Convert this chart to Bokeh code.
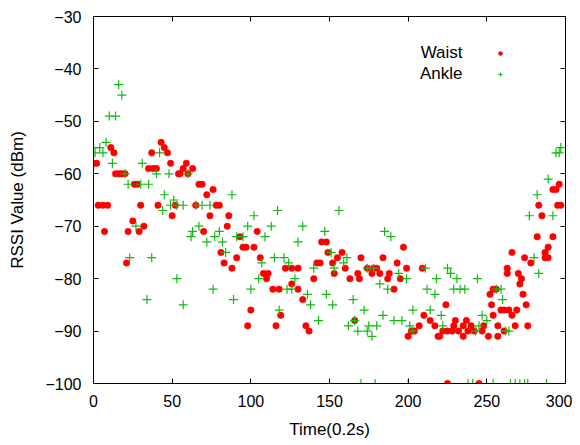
from bokeh.plotting import figure
from bokeh.models import (Range1d, FixedTicker, LinearAxis, Label, Legend, LegendItem)
from bokeh.embed import file_html
from bokeh.resources import INLINE

# ---- data ----
waist_x = [0, 2, 3, 6, 9, 7, 11, 13, 14, 16, 18, 20, 21, 22, 25, 26, 28, 29, 30, 32,
           35, 38, 40, 37, 41, 43, 45, 47, 49, 50, 52, 54, 55, 57, 59, 60, 63, 65, 67, 69,
           70, 72, 76, 74, 78, 80, 81, 83, 85, 86, 88, 91, 93, 95, 97, 102, 98, 100, 104, 106,
           108, 111, 110, 114, 118, 116, 119, 122, 126, 130, 126, 130, 133, 135, 137, 140, 142, 144, 145, 148,
           149, 152, 153, 155, 158, 160, 163, 166, 168, 169, 170, 174, 177, 178, 180, 182, 184, 187, 188, 191,
           193, 195, 197, 199, 200, 202, 204, 207, 209, 210, 214, 217, 219, 220, 222, 225, 228, 224, 225, 229,
           230, 232, 235, 235, 237, 238, 240, 242, 245, 247, 248, 251, 252, 253, 254, 254, 256, 257, 257, 259,
           261, 261, 263, 263, 264, 266, 266, 268, 269, 270, 271, 272, 273, 274, 275, 276, 278, 282, 283, 285,
           287, 287, 289, 289, 292, 292, 294, 295, 297, 296]
waist_y = [-58, -58, -66, -66, -66, -71, -55, -56, -60, -60, -60, -60, -77, -71, -69, -62, -62, -71, -66, -70,
           -59, -59, -59, -56, -66, -54, -55, -56, -58, -68, -66, -60, -60, -59, -58, -60, -59, -66, -62, -62,
           -71, -64, -63, -68, -66, -66, -75, -77, -70, -68, -78, -76, -72, -74, -74, -74, -89, -86, -71, -76,
           -79, -79, -80, -82, -82, -89, -87, -78, -78, -78, -81, -82, -84, -89, -90, -80, -77, -77, -73, -73,
           -75, -77, -79, -76, -75, -78, -80, -88, -79, -80, -76, -78, -79, -78, -78, -79, -76, -80, -79, -82,
           -77, -80, -74, -78, -91, -90, -90, -89, -78, -87, -88, -89, -91, -91, -90, -90, -90, -85, -100, -89,
           -88, -90, -89, -91, -88, -90, -89, -90, -100, -90, -89, -91, -83, -85, -82, -87, -82, -89, -91, -86,
           -86, -90, -78, -79, -86, -75, -87, -89, -86, -79, -81, -80, -83, -76, -85, -89, -77, -72, -66, -68,
           -75, -76, -76, -74, -72, -63, -63, -66, -66, -62]

ankle_x = [0, 4, 1, 6, 8, 10, 14, 12, 16, 18, 20, 22, 23, 27, 30, 35, 31, 34, 37, 40,
           42, 44, 45, 48, 49, 51, 53, 53, 57, 57, 60, 62, 63, 65, 67, 69, 72, 74, 76, 77,
           80, 82, 84, 88, 89, 91, 95, 98, 100, 102, 105, 107, 109, 113, 115, 117, 118, 121, 123, 124,
           126, 128, 130, 133, 136, 138, 140, 143, 147, 148, 151, 152, 153, 156, 159, 161, 162, 165, 166, 168,
           170, 172, 174, 174, 175, 177, 178, 179, 180, 182, 184, 185, 187, 189, 191, 194, 196, 199, 200, 201,
           203, 203, 211, 212, 214, 217, 218, 221, 222, 225, 227, 229, 231, 233, 236, 238, 241, 243, 244, 245,
           247, 250, 254, 256, 259, 260, 262, 264, 265, 268, 271, 274, 276, 277, 280, 282, 283, 288, 289, 292,
           294, 296, 297]
ankle_y = [-55, -55, -56, -56, -54, -49, -49, -58, -43, -45, -60, -62, -76, -70, -62, -62, -58, -84, -76, -60,
           -56, -67, -64, -60, -66, -65, -66, -80, -66, -85, -60, -72, -71, -66, -70, -66, -73, -66, -82, -72,
           -71, -73, -75, -64, -84, -72, -72, -70, -82, -68, -80, -77, -72, -70, -76, -67, -86, -76, -82, -77,
           -82, -80, -73, -70, -83, -85, -78, -88, -71, -83, -75, -85, -78, -67, -77, -76, -89, -84, -88, -90,
           -100, -86, -78, -90, -89, -91, -78, -100, -89, -81, -87, -71, -82, -72, -88, -79, -88, -80, -100, -89,
           -86, -90, -78, -82, -86, -83, -80, -87, -89, -78, -79, -82, -80, -82, -82, -100, -100, -90, -80, -89,
           -87, -88, -100, -82, -82, -84, -90, -90, -100, -100, -100, -100, -100, -68, -76, -64, -79, -100, -61, -68,
           -56, -56, -55]

x_ticks = [0, 50, 100, 150, 200, 250, 300]
y_ticks = [-100, -90, -80, -70, -60, -50, -40, -30]
series_names = ["Waist", "Ankle"]
x_label = "Time(0.2s)"
y_label = "RSSI Value (dBm)"

FONT = "Liberation Sans"
RED = "#ff0000"
GREEN = "#11bb11"

p = figure(frame_width=472, frame_height=367, output_backend="svg", toolbar_location=None,
           x_range=Range1d(0, 300), y_range=Range1d(-100, -30),
           min_border_left=93, min_border_right=7, min_border_top=16, min_border_bottom=60,
           x_axis_label=x_label, y_axis_label=y_label)

p.grid.visible = False
p.outline_line_color = "black"
p.outline_line_width = 1
p.background_fill_color = "white"
p.border_fill_color = "white"

for ax, ticks in ((p.xaxis[0], x_ticks), (p.yaxis[0], y_ticks)):
    ax.ticker = FixedTicker(ticks=ticks)
    ax.major_tick_in = 5
    ax.major_tick_out = 0
    ax.minor_tick_line_color = None
    ax.axis_line_color = "black"
    ax.major_tick_line_color = "black"
    ax.major_label_text_font = FONT
    ax.major_label_text_font_size = "16px"
    ax.major_label_text_color = "black"
    ax.axis_label_text_font = FONT
    ax.axis_label_text_font_size = "17px"
    ax.axis_label_text_font_style = "normal"
    ax.axis_label_text_color = "black"

p.xaxis[0].major_label_standoff = 11
p.xaxis[0].axis_label_standoff = 10
p.yaxis[0].major_label_standoff = 12
p.yaxis[0].axis_label_standoff = 15

# mirrored ticks on top and right (no labels)
for side, ticks in (("above", x_ticks), ("right", y_ticks)):
    ax = LinearAxis(ticker=FixedTicker(ticks=ticks))
    ax.major_tick_in = 5
    ax.major_tick_out = 0
    ax.minor_tick_line_color = None
    ax.major_label_text_font_size = "1px"
    ax.major_label_text_color = None
    ax.major_label_standoff = 0
    ax.axis_line_color = "black"
    ax.major_tick_line_color = "black"
    p.add_layout(ax, side)

r_waist = p.scatter(waist_x, waist_y, marker="circle", size=6.5,
                    fill_color=RED, line_color=RED, line_width=0.5)
r_ankle = p.scatter(ankle_x, ankle_y, marker="cross", size=9,
                    line_color=GREEN, line_width=1.2)

# key in gnuplot style: text right-aligned, symbol on the right
legend = Legend(items=[LegendItem(label="", renderers=[r_waist]),
                       LegendItem(label="", renderers=[r_ankle])],
                location=(402, 300), glyph_width=10, glyph_height=18, spacing=3,
                padding=0, margin=0, label_standoff=0, label_width=0, label_height=18,
                border_line_color=None, background_fill_alpha=0)
p.add_layout(legend, "center")

for name, ypos in zip(series_names, [331, 310]):
    p.add_layout(Label(x=369, y=ypos, x_units="screen", y_units="screen", text=name,
                       text_align="right", text_baseline="middle",
                       text_font=FONT, text_font_size="17px", text_color="black"))

open("out.html", "w").write(file_html(p, INLINE))
